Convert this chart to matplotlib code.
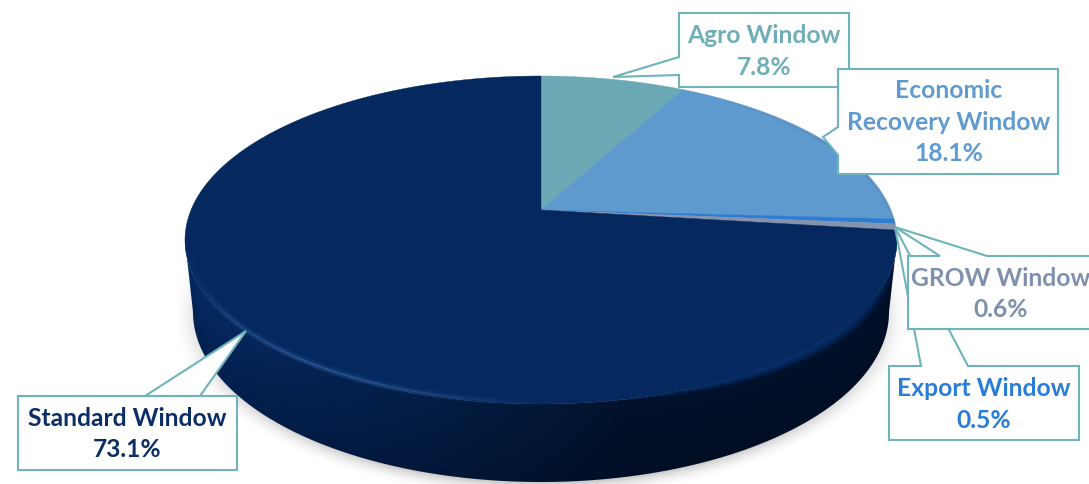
import numpy as np
import matplotlib
matplotlib.use("Agg")
import matplotlib.pyplot as plt
from matplotlib.collections import LineCollection
from matplotlib.patches import Polygon

plt.rcParams['font.family'] = ['Lato', 'DejaVu Sans']

# slices clockwise from 12 o'clock
names = ["Agro Window", "Economic\nRecovery Window", "Export Window", "GROW Window", "Standard Window"]
shares = [7.8, 18.1, 0.5, 0.6, 73.1]
slice_colors = ["#6BA9B5", "#5F9ACF", "#2D7DD2", "#8594AE", "#05295F"]
text_colors = ["#6FAEB8", "#5F9BD1", "#2A7DD6", "#7F8FAD", "#0B2E66"]

# pie geometry in pixels of the picture
CX, CY, RX, RY = 541, 240, 356, 164
V0 = 0.183  # tilt: how far the apex sits above the ellipse centre
DEPTH, RX2, RY2 = 72, 348, 170
EDGE = "#6FB3BB"


def project(theta):
    # unit circle -> tilted disc, theta clockwise from the top
    x, y = np.sin(theta), np.cos(theta)
    d = 1 + V0 * y
    u = x * np.sqrt(1 - V0 ** 2) / d
    v = (y + V0) / d
    return CX + RX * u, CY - RY * v


def rim_line(a0, a1, rgb, peak, width, zorder=4):
    # a line along the top ellipse, fading out at both ends
    ang = np.linspace(a0, a1, 200)
    hx = CX + (RX - 2) * np.sin(ang)
    hy = CY - (RY - 2) * np.cos(ang)
    segs = np.stack([np.column_stack([hx[:-1], hy[:-1]]), np.column_stack([hx[1:], hy[1:]])], axis=1)
    rgba = np.zeros((199, 4))
    rgba[:, :3] = rgb
    rgba[:, 3] = peak * np.sin(np.linspace(0, np.pi, 199)) ** 1.2
    ax.add_collection(LineCollection(segs, colors=rgba, linewidths=width, zorder=zorder))


fig = plt.figure(figsize=(10.89, 4.84), dpi=100)
ax = fig.add_axes([0, 0, 1, 1])
ax.set_xlim(0, 1089)
ax.set_ylim(484, 0)
ax.axis("off")

# soft shadow under the pie
gx, gy = np.meshgrid(np.arange(0, 1089) + 0.5, np.arange(0, 484) + 0.5)
dist = np.sqrt(((gx - CX) / (RX2 + 4)) ** 2 + ((gy - CY - DEPTH - 4) / (RY2 + 4)) ** 2)
shadow = np.zeros(gx.shape + (4,))
shadow[..., :3] = 0.5
shadow[..., 3] = 0.4 * np.clip((1.05 - dist) / 0.09, 0, 1) ** 2
ax.imshow(shadow, extent=(0, 1089, 484, 0), zorder=1, aspect="auto")

# side wall, gradient clipped to the hull of the two ellipses
t = np.linspace(-np.pi / 2, np.pi / 2, 300)
low_x = CX + RX2 * np.sin(t)
low_y = CY + DEPTH + RY2 * np.cos(t)
t2 = np.linspace(np.pi / 2, 3 * np.pi / 2, 300)
top_x = CX + RX * np.sin(t2)
top_y = CY - RY * np.cos(t2)
side = Polygon(np.column_stack([np.r_[low_x, top_x], np.r_[low_y, top_y]]), closed=True,
               facecolor="none", edgecolor="none", transform=ax.transData)
ax.add_patch(side)

rim = CY + RY * np.sqrt(np.clip(1 - ((gx - CX) / RX) ** 2, 0, 1))
bottom = CY + DEPTH + RY2 * np.sqrt(np.clip(1 - ((gx - CX) / RX2) ** 2, 0, 1))
frac_v = np.clip((gy - rim) / np.maximum(bottom - rim, 1), 0, 1)
frac_h = np.clip((gx - 200) / 430, 0, 1)
c_left_top = np.array([0x05, 0x2a, 0x62]) / 255
c_left_low = np.array([0x03, 0x20, 0x50]) / 255
c_right_top = np.array([0x02, 0x12, 0x2c]) / 255
c_right_low = np.array([0x01, 0x0e, 0x24]) / 255
fh = frac_h[..., None]
fv = frac_v[..., None]
wall = (c_left_top * (1 - fv) + c_left_low * fv) * (1 - fh) + (c_right_top * (1 - fv) + c_right_low * fv) * fh
im = ax.imshow(wall, extent=(0, 1089, 484, 0), zorder=2, aspect="auto")
im.set_clip_path(side)

# top face slices
bounds = np.cumsum([0] + shares) / np.sum(shares) * 2 * np.pi
apex_x, apex_y = CX, CY - RY * V0
for i in range(len(shares)):
    th = np.linspace(bounds[i], bounds[i + 1], max(3, int(shares[i] * 8)))
    px, py = project(th)
    ax.fill(np.r_[apex_x, px], np.r_[apex_y, py], color=slice_colors[i], lw=0.3, zorder=3)

# soft edge where the face meets the wall, a little lower on the right
shift = 14 * np.clip((gx - 600) / 250, 0, 1)
d_face = np.sqrt(((gx - CX) / RX) ** 2 + ((gy - CY - shift) / RY) ** 2)
blend = np.zeros(gx.shape + (4,))
blend[..., :3] = np.array([0x05, 0x2b, 0x64]) / 255
blend[..., 3] = np.clip((1.0 - d_face) / 0.03, 0, 1) * (gy > 234) * np.clip((gx - 560) / 60, 0, 1)
im2 = ax.imshow(blend, extent=(0, 1089, 484, 0), zorder=3.5, aspect="auto")
im2.set_clip_path(side)

# highlight along the front rim, bevel on the left, thin edge on the far right
rim_line(np.pi * 0.98, np.pi * 1.5, (0.14, 0.30, 0.55), 0.3, 5)
rim_line(np.pi * 1.0, np.pi * 1.42, (0.20, 0.38, 0.62), 0.7, 1.4)
rim_line(np.pi * 0.14, np.pi * 0.52, (0.35, 0.42, 0.52), 0.35, 1.0)

# callouts: box with a pointer, in drawing order
callouts = [
    (4, (18, 237, 396, 470), (246, 331), [(200, 396), (145, 396)], (127.5, 434)),
    (0, (679, 849, 13, 87), (613, 77), [(679, 57), (679, 75)], (764, 51.5)),
    (1, (838, 1058, 69, 174), (823, 137), [(838, 127), (838, 155)], (949, 122)),
    (2, (889, 1079, 366, 440), (895, 227), [(921, 366), (968, 366)], (984, 404.5)),
    (3, (908, 1100, 256, 329), (895, 227), [(940, 256), (987, 256)], (1001, 294)),
]
for n, (idx, (x0, x1, y0, y1), tip, joints, mid) in enumerate(callouts):
    j0, j1 = joints
    if j0[1] == y0:  # pointer leaves through the top edge
        pts = [(x0, y0), j0, tip, j1, (x1, y0), (x1, y1), (x0, y1)]
    else:  # pointer leaves through the left edge
        pts = [(x0, y0), (x1, y0), (x1, y1), (x0, y1), j1, tip, j0]
    ax.add_patch(Polygon(pts, closed=True, facecolor="white", edgecolor=EDGE, lw=1.5,
                         joinstyle="miter", zorder=5 + n * 0.1))
    ax.text(mid[0], mid[1], f"{names[idx]}\n{shares[idx]}%", ha="center", va="center",
            color=text_colors[idx], fontsize=17.7, fontweight="bold", linespacing=1.47,
            zorder=5.05 + n * 0.1)

fig.savefig("out.png", dpi=100)
